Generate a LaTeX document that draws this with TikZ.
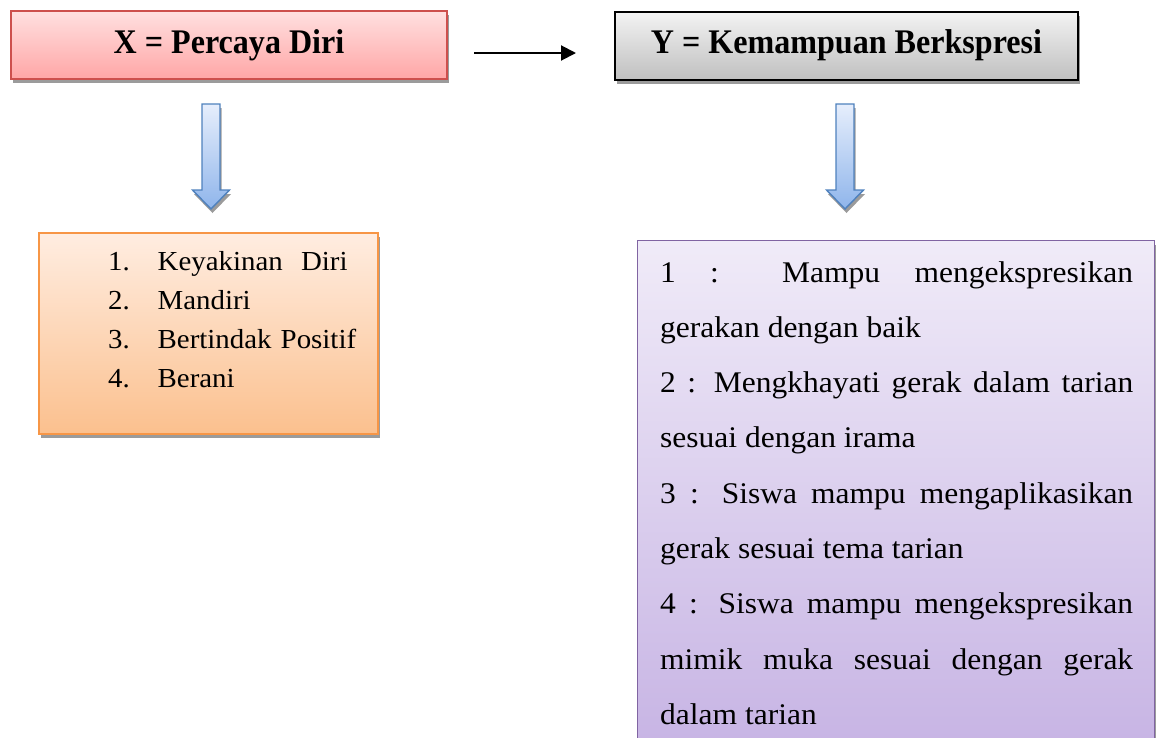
\documentclass[tikz,border=0pt]{standalone}
\usepackage{fontspec}
\setmainfont{Liberation Serif}
\newfontfamily\bodyfont[FakeStretch=1.05]{Liberation Serif}
\newfontfamily\headfont[FakeStretch=0.93]{Liberation Serif}
\usetikzlibrary{arrows.meta,shadows,positioning}

\definecolor{xline}{RGB}{205,80,77}
\definecolor{xtop}{RGB}{255,224,224}
\definecolor{xbot}{RGB}{255,166,166}
\definecolor{ytop}{RGB}{243,243,243}
\definecolor{ybot}{RGB}{192,192,192}
\definecolor{arrline}{RGB}{79,129,189}
\definecolor{arrtop}{RGB}{230,238,252}
\definecolor{arrbot}{RGB}{143,181,235}
\definecolor{indline}{RGB}{247,150,70}
\definecolor{indtop}{RGB}{255,237,225}
\definecolor{indbot}{RGB}{251,192,142}
\definecolor{descline}{RGB}{128,100,162}
\definecolor{desctop}{RGB}{240,235,248}
\definecolor{descbot}{RGB}{199,180,228}
\definecolor{shade}{RGB}{155,155,155}

\tikzset{downblock/.pic={
  \draw[shadowed,line width=1.4pt,draw=arrline,top color=arrtop,bottom color=arrbot]
    (-9,0) -- (9,0) -- (9,86) -- (18.5,86) -- (0,105) -- (-18.5,86) -- (-9,86) -- cycle;
}}

\begin{document}
\begin{tikzpicture}[x=1pt,y=-1pt,
  shadowed/.style={general shadow={fill=shade,shadow xshift=1.5pt,shadow yshift=-4pt}},
  varbox/.style={shadowed,rectangle,line width=1.6pt,minimum height=68pt,
    font=\headfont\fontsize{34.5}{38}\selectfont\bfseries},
  listbox/.style={shadowed,rectangle,line width=1.4pt,inner sep=0pt},
  listtext/.style={inner sep=0pt,anchor=base west,font=\bodyfont\fontsize{27.5}{39}\selectfont}]
\clip (0,0) rectangle (1156,737);
% variabel X dan Y
\node[varbox,draw=xline,top color=xtop,bottom color=xbot,minimum width=436pt] (varX) at (229,45) {X = Percaya Diri};
\node[varbox,draw=black,line width=2pt,top color=ytop,bottom color=ybot,minimum width=463pt] (varY) at (846.5,45.5) {Y = Kemampuan Berkspresi};
\coordinate (relS) at (474,53);
\coordinate (relE) at (576,53);
\draw[line width=2pt,-{Triangle[length=15pt,width=15pt]}] (relS) -- (relE);

\pic at (211,104) {downblock};
\pic at (845,104) {downblock};

% indikator X
\node[listbox,draw=indline,top color=indtop,bottom color=indbot,minimum width=339pt,minimum height=201pt] (indX) at (208.5,333.5) {};
\node[listtext,text width=250pt,align=left] (indXtext) at (108,270)
  {\makebox[49.5pt][l]{1.}Keyakinan\ \ Diri\\
   \makebox[49.5pt][l]{2.}Mandiri\\
   \makebox[49.5pt][l]{3.}Bertindak Positif\\
   \makebox[49.5pt][l]{4.}Berani};

% indikator Y
\node[listbox,draw=descline,top color=desctop,bottom color=descbot,minimum width=517pt,minimum height=507pt,anchor=north west] (indY) at (637,240) {};
\node[listtext,font=\bodyfont\fontsize{30}{55.3}\selectfont,text width=473pt,align=justify] (indYtext) at (660,282)
  {1 : Mampu mengekspresikan\linebreak gerakan dengan baik\par
   2 : Mengkhayati gerak dalam tarian\linebreak sesuai dengan irama\par
   3 : Siswa mampu mengaplikasikan\linebreak gerak sesuai tema tarian\par
   4 : Siswa mampu mengekspresikan\linebreak mimik muka sesuai dengan gerak\linebreak dalam tarian};
\end{tikzpicture}
\end{document}
